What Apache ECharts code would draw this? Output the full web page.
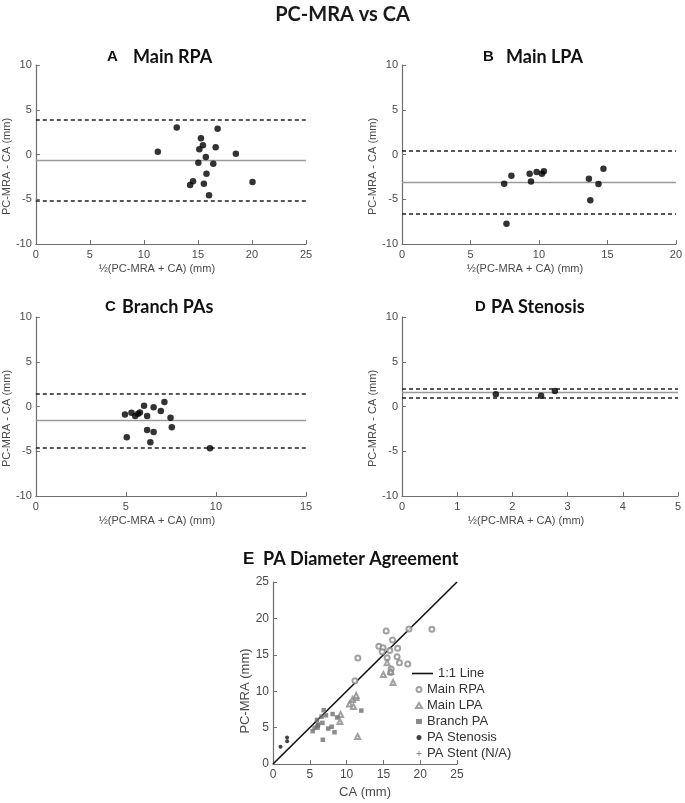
<!DOCTYPE html>
<html><head><meta charset="utf-8">
<script src="https://cdn.jsdelivr.net/npm/echarts@6/dist/echarts.min.js"></script>
<style>html,body{margin:0;padding:0;background:#fff}#c{width:685px;height:803px}</style>
</head><body><div id="c"></div>
<script>
// Panel A: Main RPA (Bland-Altman)
const rpaMean = [11.29,13.04,16.82,15.28,15.46,15.13,16.64,18.51,15.73,15.04,16.42,15.79,14.55,14.28,15.55,20.05,16.03];
const rpaDiff = [0.31,3.03,2.89,1.81,1.03,0.58,0.80,0.09,-0.28,-0.91,-1.02,-2.14,-3.0,-3.41,-3.26,-3.07,-4.56];
// Panel B: Main LPA
const lpaMean = [7.46,7.99,9.32,9.42,9.83,10.22,10.36,13.65,14.35,14.71,13.75,7.63];
const lpaDiff = [-3.26,-2.37,-2.14,-3.03,-1.96,-2.14,-1.88,-2.7,-3.3,-1.58,-5.12,-7.73];
// Panel C: Branch PAs
const brMean = [4.95,5.31,5.52,5.68,5.78,6.01,6.18,6.18,6.36,6.54,6.54,6.94,7.14,7.48,7.55,5.05,9.67];
const brDiff = [-0.88,-0.69,-1.06,-0.8,-0.68,0.09,-1.06,-2.63,-4.0,-0.09,-2.85,-0.5,0.5,-1.25,-2.33,-3.44,-4.67];
// Panel D: PA Stenosis
const stMean = [1.70,2.52,2.77];
const stDiff = [1.36,1.21,1.73];
// Bias and limits of agreement for panels A-D
const panelBias  = [-0.62,-3.1,-1.5,1.54];
const panelUpper = [3.9,0.4,1.47,1.99];
const panelLower = [-5.15,-6.6,-4.56,1.03];
const panelXMax = [25,20,15,5];
const panelXStep = [5,5,5,1];
const panelLetters = ['A','B','C','D'];
const panelTitles = ['Main RPA','Main LPA','Branch PAs','PA Stenosis'];
const yTicks = [-10,10,5];
// Panel E: diameter agreement (CA vs PC-MRA)
const eRpaCA = [11.14,11.53,15.38,14.38,14.95,14.84,16.24,18.47,15.87,15.50,16.93,16.86,16.05,15.99,17.18,21.59,18.31];
const eRpaPC = [11.45,14.56,18.27,16.19,15.98,15.42,17.04,18.56,15.59,14.59,15.91,14.72,13.05,12.58,13.92,18.52,13.75];
const eLpaCA = [9.09,9.18,10.39,10.94,10.81,11.29,11.3,15.0,16.0,15.5,16.31,11.5];
const eLpaPC = [5.83,6.8,8.25,7.91,8.85,9.15,9.42,12.3,12.7,13.92,11.19,3.77];
const eBrCA = [5.39,5.66,6.05,6.08,6.12,5.97,6.71,7.5,8.36,6.59,7.97,7.19,6.89,8.1,8.72,6.77,12.0];
const eBrPC = [4.51,4.97,4.99,5.28,5.44,6.06,5.65,4.87,4.36,6.5,5.12,6.69,7.39,6.86,6.39,3.33,7.34];
const eStCA = [1.02,1.92,1.91];
const eStPC = [2.38,3.13,3.64];
const eStentCA = [];
const eStentPC = [];
const identityLine = [[0,0],[25,25]];
const eLegend = ['1:1 Line','Main RPA','Main LPA','Branch PA','PA Stenosis','PA Stent (N/A)'];

const zip = (a,b) => a.map((v,i)=>[v,b[i]]);
const FONT = 'Liberation Sans';
const axisCol = '#6e6e6e';
const labCol = '#4a4a4a';

const grids = [
  {left:30, top:65, width:276, height:179},
  {left:402, top:65, width:276, height:179},
  {left:30, top:317, width:276, height:179},
  {left:402, top:317, width:276, height:179},
  {left:273, top:582, width:184, height:182}
];

function xAx(i, max, step, name, fs, nfs, gap, pad){
  return {gridIndex:i, type:'value', min:0, max:max, interval:step,
    axisLine:{show:true, onZero:false, lineStyle:{color:axisCol, width:1.2}},
    axisTick:{show:true, inside:true, length:4, lineStyle:{color:axisCol}},
    axisLabel:{fontFamily:FONT, fontSize:fs, color:labCol, margin:5},
    splitLine:{show:false},
    name:name, nameLocation:'middle', nameGap:gap,
    nameTextStyle:{fontFamily:FONT, fontSize:nfs, color:labCol, padding:pad}};
}
function yAx(i, min, max, step, name, fs, nfs, gap, pad){
  return {gridIndex:i, type:'value', min:min, max:max, interval:step,
    axisLine:{show:true, onZero:false, lineStyle:{color:axisCol, width:1.2}},
    axisTick:{show:true, inside:true, length:4, lineStyle:{color:axisCol}},
    axisLabel:{fontFamily:FONT, fontSize:fs, color:labCol, margin:4},
    splitLine:{show:false},
    name:name, nameLocation:'middle', nameGap:gap, nameRotate:90,
    nameTextStyle:{fontFamily:FONT, fontSize:nfs, color:labCol, padding:pad}};
}

const xAxes = [], yAxes = [], series = [];
const baMeans = [rpaMean, lpaMean, brMean, stMean];
const baDiffs = [rpaDiff, lpaDiff, brDiff, stDiff];
for (let i=0;i<4;i++){
  xAxes.push(xAx(i, panelXMax[i], panelXStep[i], '½(PC-MRA + CA) (mm)', 11, 11, 19, [0,28,0,0]));
  yAxes.push(yAx(i, yTicks[0], yTicks[1], yTicks[2], 'PC-MRA - CA (mm)', 11, 11, (i%2===0)?16:20, [0,24,0,0]));
  series.push({type:'scatter', xAxisIndex:i, yAxisIndex:i, symbol:'circle', symbolSize:6.5,
    itemStyle:{color:'#000'}, data: zip(baMeans[i], baDiffs[i]), silent:true, z:5,
    markLine:{silent:true, symbol:'none', label:{show:false}, animation:false,
      data:[
        {yAxis:panelBias[i], lineStyle:{color:'#9a9a9a', width:1.3, type:'solid'}},
        {yAxis:panelUpper[i], lineStyle:{color:'#222', width:1.5, type:[4,3]}},
        {yAxis:panelLower[i], lineStyle:{color:'#222', width:1.5, type:[4,3]}}
      ]}});
}
xAxes.push(xAx(4, 25, 5, 'CA (mm)', 12, 13, 22, [0,0,0,0]));
yAxes.push(yAx(4, 0, 25, 5, 'PC-MRA (mm)', 12, 13, 21, [0,36,0,0]));
series.push({type:'line', name:eLegend[0], xAxisIndex:4, yAxisIndex:4, data:identityLine, symbol:'none',
  lineStyle:{color:'#111', width:1.6}, itemStyle:{color:'#111'}, z:3, silent:true});
series.push({type:'scatter', name:eLegend[1], xAxisIndex:4, yAxisIndex:4, symbol:'emptyCircle', symbolSize:5,
  itemStyle:{color:'#8a8a8a', borderWidth:1}, data:zip(eRpaCA,eRpaPC), z:4, silent:true});
series.push({type:'scatter', name:eLegend[2], xAxisIndex:4, yAxisIndex:4, symbol:'emptyTriangle', symbolSize:5,
  itemStyle:{color:'#8a8a8a', borderWidth:1}, data:zip(eLpaCA,eLpaPC), z:4, silent:true});
series.push({type:'scatter', name:eLegend[3], xAxisIndex:4, yAxisIndex:4, symbol:'rect', symbolSize:4.5,
  itemStyle:{color:'#6f6f6f'}, data:zip(eBrCA,eBrPC), z:4, silent:true});
series.push({type:'scatter', name:eLegend[4], xAxisIndex:4, yAxisIndex:4, symbol:'circle', symbolSize:4,
  itemStyle:{color:'#111'}, data:zip(eStCA,eStPC), z:4, silent:true});
series.push({type:'scatter', name:eLegend[5], xAxisIndex:4, yAxisIndex:4,
  symbol:'path://M4,0L6,0L6,4L10,4L10,6L6,6L6,10L4,10L4,6L0,6L0,4L4,4Z', symbolSize:5,
  itemStyle:{color:'#777'}, data:zip(eStentCA,eStentPC), z:4, silent:true});

const graphics = [
  {type:'text', left:'center', top:5, style:{text:'PC-MRA vs CA', font:'bold 20px Lato', fill:'#1a1a1a'}}
];
const letterX = [107,483,105,475];
const titleX = [133,506,122,491];
const titleY = [57,57,307,307];
for (let i=0;i<4;i++){
  graphics.push({type:'text', x:letterX[i], y:titleY[i], style:{text:panelLetters[i], font:'bold 15px "Liberation Sans"', fill:'#111', textVerticalAlign:'middle'}});
  graphics.push({type:'text', x:titleX[i], y:titleY[i], style:{text:panelTitles[i], font:'bold 18px Lato', fill:'#111', textVerticalAlign:'middle'}});
}
graphics.push({type:'text', x:243, y:559, style:{text:'E', font:'bold 17px "Liberation Sans"', fill:'#111', textVerticalAlign:'middle'}});
graphics.push({type:'text', x:263, y:559, style:{text:'PA Diameter Agreement', font:'bold 18px Lato', fill:'#111', textVerticalAlign:'middle'}});

const chart = echarts.init(document.getElementById('c'), null, {renderer:'canvas'});
chart.setOption({
  animation:false,
  backgroundColor:'#fff',
  grid: grids,
  xAxis: xAxes,
  yAxis: yAxes,
  series: series,
  graphic: graphics,
  legend: [
    {data:[{name:eLegend[0], icon:'rect'}], orient:'vertical', left:412, top:667, padding:0, itemWidth:21, itemHeight:1.6, itemGap:3,
      itemStyle:{color:'#111'},
      textStyle:{fontFamily:FONT, fontSize:13, color:'#333'}, selectedMode:false},
    {data:eLegend.slice(1), orient:'vertical', left:415, top:683, padding:0, itemWidth:6, itemHeight:5, itemGap:3,
      textStyle:{fontFamily:FONT, fontSize:13, color:'#333', lineHeight:13}, selectedMode:false}
  ]
});
</script></body></html>
